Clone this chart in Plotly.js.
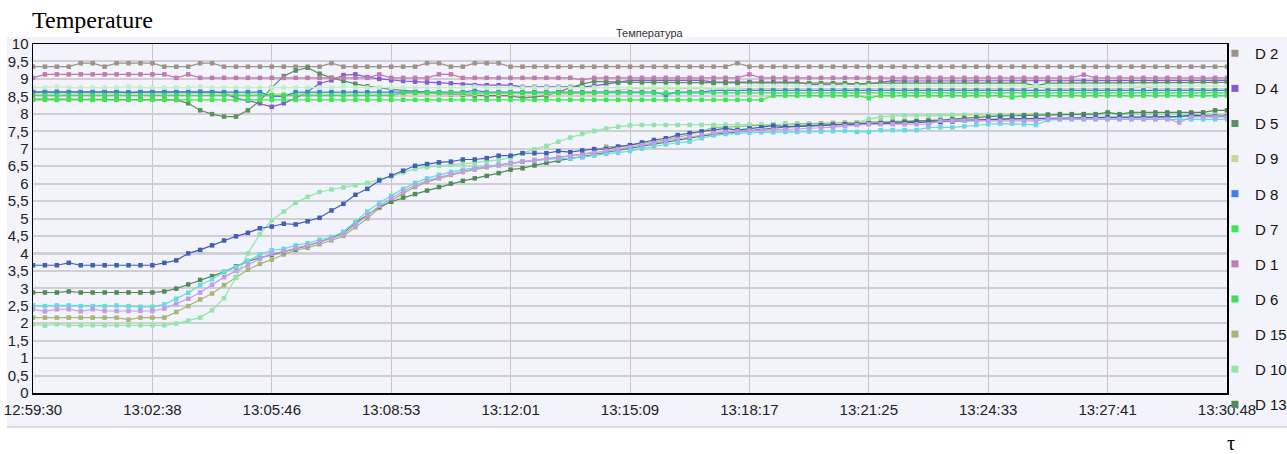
<!DOCTYPE html>
<html><head><meta charset="utf-8">
<script src="https://cdn.plot.ly/plotly-3.0.1.min.js"></script>
<style>html,body{margin:0;padding:0;background:#fff;}#chart{width:1287px;height:454px;}</style>
</head><body><div id="chart"></div>
<script>
// ---- tick labels ----
const xTickLabels = ['12:59:30','13:02:38','13:05:46','13:08:53','13:12:01','13:15:09','13:18:17','13:21:25','13:24:33','13:27:41','13:30:48'];
const yTickValues = [0,0.5,1,1.5,2,2.5,3,3.5,4,4.5,5,5.5,6,6.5,7,7.5,8,8.5,9,9.5,10];
const yTickLabels = ['0','0,5','1','1,5','2','2,5','3','3,5','4','4,5','5','5,5','6','6,5','7','7,5','8','8,5','9','9,5','10'];
const sampleStepSeconds = 18.78;   // one reading every ~18.8 s, 101 readings
const totalSeconds = 1878;

// ---- series values ----
const D2 = [9.35,9.35,9.35,9.35,9.45,9.45,9.35,9.45,9.45,9.45,
 9.45,9.35,9.35,9.35,9.45,9.45,9.35,9.35,9.35,9.35,
 9.35,9.35,9.35,9.35,9.35,9.45,9.35,9.35,9.35,9.35,
 9.35,9.35,9.35,9.45,9.45,9.35,9.35,9.45,9.45,9.45,
 9.35,9.35,9.35,9.35,9.35,9.35,9.35,9.35,9.35,9.35,
 9.35,9.35,9.35,9.35,9.35,9.35,9.35,9.35,9.35,9.45,
 9.35,9.35,9.35,9.35,9.35,9.35,9.35,9.35,9.35,9.35,
 9.35,9.35,9.35,9.35,9.35,9.35,9.35,9.35,9.35,9.35,
 9.35,9.35,9.35,9.35,9.35,9.35,9.35,9.35,9.35,9.35,
 9.35,9.35,9.35,9.35,9.35,9.35,9.35,9.35,9.35,9.35,
 9.35];
const D4 = [8.63,8.63,8.63,8.63,8.63,8.63,8.63,8.63,8.6,8.63,
 8.63,8.63,8.63,8.63,8.63,8.63,8.6,8.45,8.38,8.3,
 8.2,8.3,8.45,8.64,8.87,8.96,9.11,9.13,9.05,9.0,
 8.96,8.94,8.92,8.9,8.88,8.87,8.84,8.82,8.82,8.82,
 8.82,8.77,8.77,8.77,8.77,8.77,8.77,8.8,8.85,8.9,
 8.96,8.96,8.96,8.96,8.96,8.96,8.96,8.91,8.91,8.91,
 8.91,8.91,8.91,8.91,8.91,8.84,8.84,8.84,8.84,8.84,
 8.86,8.9,8.95,8.94,8.94,8.94,8.94,8.94,8.94,8.94,
 8.94,8.94,8.94,8.94,8.94,8.94,8.94,8.94,8.94,8.94,
 8.94,8.94,8.94,8.94,8.94,8.94,8.94,8.94,8.96,8.96,
 8.96];
const D5 = [8.42,8.42,8.4,8.42,8.42,8.4,8.42,8.42,8.42,8.42,
 8.42,8.42,8.4,8.3,8.1,7.99,7.92,7.92,8.1,8.37,
 8.75,9.08,9.24,9.32,9.15,9.03,8.94,8.86,8.79,8.74,
 8.7,8.67,8.65,8.62,8.58,8.56,8.54,8.52,8.52,8.52,
 8.52,8.45,8.48,8.52,8.62,8.75,8.85,8.93,8.92,8.9,
 8.9,8.9,8.9,8.9,8.9,8.9,8.9,8.88,8.88,8.88,
 8.88,8.88,8.88,8.88,8.88,8.88,8.88,8.88,8.88,8.85,
 8.88,8.88,8.88,8.88,8.88,8.88,8.88,8.88,8.88,8.88,
 8.88,8.88,8.88,8.88,8.8,8.88,8.88,8.88,8.88,8.88,
 8.88,8.88,8.88,8.88,8.88,8.88,8.88,8.88,8.9,8.9,
 8.9];
const D9 = [8.57,8.57,8.57,8.57,8.57,8.57,8.57,8.57,8.57,8.57,
 8.57,8.57,8.57,8.57,8.6,8.57,8.57,8.57,8.57,8.57,
 8.57,8.57,8.57,8.57,8.57,8.57,8.57,8.57,8.57,8.57,
 8.57,8.57,8.57,8.57,8.57,8.57,8.57,8.57,8.57,8.57,
 8.57,8.57,8.57,8.57,8.57,8.57,8.57,8.57,8.62,8.68,
 8.72,8.72,8.72,8.72,8.72,8.72,8.72,8.72,8.72,8.72,
 8.72,8.72,8.72,8.72,8.72,8.72,8.72,8.72,8.72,8.72,
 8.72,8.72,8.72,8.72,8.72,8.72,8.72,8.72,8.72,8.72,
 8.72,8.72,8.72,8.72,8.78,8.72,8.72,8.72,8.72,8.72,
 8.72,8.72,8.72,8.78,8.72,8.72,8.72,8.72,8.72,8.72,
 8.72];
const D8 = [8.62,8.62,8.62,8.62,8.62,8.62,8.62,8.62,8.62,8.62,
 8.62,8.62,8.62,8.62,8.62,8.62,8.62,8.62,8.62,8.62,
 8.5,8.5,8.62,8.62,8.62,8.62,8.62,8.62,8.62,8.62,
 8.62,8.62,8.62,8.62,8.62,8.62,8.62,8.67,8.62,8.62,
 8.62,8.62,8.62,8.62,8.62,8.62,8.62,8.62,8.62,8.62,
 8.62,8.62,8.62,8.54,8.62,8.62,8.62,8.67,8.67,8.67,
 8.67,8.67,8.67,8.67,8.67,8.67,8.67,8.67,8.67,8.67,
 8.67,8.67,8.67,8.67,8.67,8.67,8.67,8.67,8.67,8.67,
 8.67,8.67,8.67,8.67,8.67,8.67,8.67,8.67,8.67,8.67,
 8.67,8.67,8.67,8.67,8.67,8.67,8.67,8.67,8.67,8.67,
 8.67];
const D7 = [8.4,8.4,8.4,8.4,8.4,8.4,8.4,8.4,8.4,8.4,
 8.4,8.4,8.4,8.4,8.4,8.4,8.4,8.4,8.4,8.4,
 8.4,8.4,8.4,8.4,8.4,8.4,8.4,8.4,8.4,8.4,
 8.4,8.4,8.4,8.4,8.4,8.4,8.4,8.4,8.4,8.4,
 8.4,8.4,8.4,8.4,8.4,8.4,8.4,8.4,8.4,8.4,
 8.4,8.4,8.4,8.4,8.4,8.4,8.4,8.4,8.4,8.4,
 8.4,8.4,8.52,8.52,8.52,8.52,8.52,8.52,8.52,8.52,
 8.45,8.52,8.52,8.52,8.52,8.52,8.52,8.52,8.52,8.52,
 8.52,8.52,8.47,8.52,8.52,8.52,8.52,8.52,8.52,8.52,
 8.52,8.52,8.52,8.52,8.52,8.52,8.52,8.52,8.52,8.52,
 8.52];
const D1 = [9.03,9.13,9.13,9.13,9.13,9.13,9.13,9.13,9.13,9.13,
 9.13,9.13,9.03,9.13,9.03,9.03,9.03,9.03,9.03,9.03,
 9.03,9.03,9.03,9.03,9.03,9.03,9.03,9.03,9.03,9.13,
 9.03,9.03,9.03,9.03,9.13,9.13,9.03,9.03,9.03,9.03,
 9.03,9.03,9.03,9.03,9.03,9.03,8.97,9.03,9.03,9.03,
 9.03,9.03,9.03,9.03,9.03,9.03,9.03,9.03,9.03,9.03,
 9.13,9.03,9.03,9.03,9.03,9.03,9.03,9.03,9.03,9.03,
 9.03,9.03,9.03,9.03,9.03,9.03,9.03,9.03,9.03,9.03,
 9.03,9.03,9.03,9.03,9.03,9.03,9.03,9.03,9.12,9.03,
 9.03,9.03,9.03,9.03,9.03,9.03,9.03,9.03,9.03,9.03,
 9.03];
const D6 = [8.53,8.53,8.53,8.53,8.53,8.53,8.53,8.53,8.53,8.53,
 8.53,8.53,8.53,8.53,8.53,8.53,8.53,8.53,8.53,8.53,
 8.53,8.53,8.53,8.53,8.53,8.53,8.53,8.53,8.53,8.53,
 8.53,8.6,8.6,8.6,8.6,8.6,8.6,8.6,8.6,8.6,
 8.6,8.6,8.6,8.6,8.6,8.6,8.6,8.6,8.6,8.6,
 8.6,8.6,8.6,8.6,8.6,8.6,8.6,8.6,8.6,8.6,
 8.6,8.6,8.6,8.6,8.6,8.6,8.6,8.6,8.6,8.6,
 8.6,8.6,8.6,8.6,8.6,8.6,8.6,8.6,8.6,8.6,
 8.6,8.6,8.6,8.6,8.6,8.6,8.6,8.6,8.6,8.6,
 8.6,8.6,8.6,8.6,8.6,8.6,8.6,8.6,8.6,8.6,
 8.6];
const D15 = [2.16,2.16,2.16,2.16,2.16,2.16,2.16,2.16,2.1,2.16,
 2.16,2.16,2.32,2.49,2.68,2.85,3.09,3.32,3.53,3.7,
 3.82,3.97,4.09,4.16,4.26,4.37,4.5,4.75,5.0,5.3,
 5.52,5.72,5.9,6.05,6.15,6.25,6.33,6.4,6.47,6.52,
 6.58,6.63,6.68,6.72,6.76,6.8,6.84,6.92,7.06,7.06,
 7.1,7.15,7.2,7.26,7.32,7.4,7.5,7.61,7.62,7.64,
 7.65,7.68,7.7,7.72,7.72,7.72,7.73,7.74,7.75,7.76,
 7.78,7.78,7.8,7.8,7.8,7.82,7.82,7.82,7.84,7.84,
 7.84,7.84,7.86,7.86,7.86,7.86,7.86,7.88,7.88,7.88,
 7.88,7.9,7.9,7.9,7.9,7.9,7.92,7.92,7.94,7.94,
 7.95];
const D10 = [1.97,1.93,1.97,1.94,1.94,1.94,1.94,1.94,1.94,1.94,
 1.94,1.94,1.99,2.07,2.16,2.37,2.72,3.3,4.0,4.55,
 4.95,5.2,5.45,5.62,5.76,5.83,5.89,5.95,6.02,6.12,
 6.2,6.32,6.42,6.47,6.51,6.54,6.57,6.6,6.63,6.68,
 6.75,6.88,6.98,7.08,7.2,7.32,7.42,7.51,7.58,7.63,
 7.67,7.68,7.68,7.68,7.68,7.68,7.68,7.68,7.69,7.69,
 7.69,7.69,7.7,7.7,7.7,7.7,7.7,7.7,7.71,7.75,
 7.85,7.91,7.94,7.95,7.95,7.95,7.95,7.97,7.97,7.97,
 7.97,7.97,7.97,7.97,7.97,7.97,7.97,7.97,7.97,7.98,
 7.98,7.98,7.98,7.98,7.98,7.98,7.98,7.98,7.98,7.98,
 7.98];
const D13 = [2.88,2.88,2.88,2.91,2.88,2.88,2.88,2.88,2.88,2.88,
 2.88,2.91,2.99,3.11,3.24,3.35,3.47,3.63,3.78,3.87,
 3.96,4.04,4.12,4.22,4.33,4.44,4.6,4.88,5.1,5.33,
 5.48,5.6,5.7,5.8,5.9,6.0,6.08,6.15,6.22,6.3,
 6.4,6.44,6.52,6.6,6.66,6.72,6.78,6.84,6.9,6.96,
 7.02,7.08,7.14,7.2,7.26,7.31,7.36,7.41,7.45,7.49,
 7.53,7.56,7.59,7.62,7.64,7.66,7.68,7.69,7.7,7.71,
 7.72,7.73,7.75,7.77,7.79,7.8,7.82,7.85,7.88,7.9,
 7.92,7.94,7.95,7.96,7.97,7.98,7.99,7.99,7.99,7.99,
 8.04,7.99,8.04,8.04,8.04,8.04,8.04,8.04,8.04,8.1,
 8.1];
const D11 = [3.66,3.66,3.66,3.73,3.66,3.66,3.66,3.66,3.66,3.66,
 3.66,3.73,3.8,4.0,4.1,4.23,4.37,4.49,4.59,4.72,
 4.77,4.85,4.83,4.92,5.02,5.23,5.42,5.68,5.85,6.09,
 6.23,6.37,6.51,6.56,6.61,6.63,6.69,6.69,6.73,6.8,
 6.8,6.87,6.87,6.87,6.93,6.9,6.95,6.99,6.99,7.06,
 7.1,7.18,7.25,7.3,7.39,7.45,7.49,7.53,7.58,7.53,
 7.58,7.61,7.66,7.63,7.65,7.66,7.67,7.68,7.7,7.7,
 7.72,7.72,7.73,7.74,7.75,7.75,7.76,7.78,7.8,7.82,
 7.84,7.86,7.86,7.86,7.86,7.87,7.88,7.88,7.89,7.89,
 7.9,7.9,7.9,7.91,7.91,7.92,7.92,7.96,7.94,7.93,
 7.93];
const D12 = [2.51,2.49,2.51,2.51,2.49,2.49,2.49,2.51,2.49,2.47,
 2.47,2.54,2.7,2.87,3.09,3.26,3.47,3.61,3.78,3.97,
 4.09,4.13,4.23,4.29,4.39,4.47,4.62,4.9,5.2,5.45,
 5.65,5.85,6.02,6.15,6.25,6.33,6.4,6.45,6.5,6.55,
 6.6,6.63,6.66,6.69,6.72,6.72,6.75,6.8,6.85,6.88,
 6.93,7.0,7.07,7.12,7.17,7.2,7.3,7.38,7.42,7.45,
 7.46,7.47,7.47,7.48,7.48,7.49,7.49,7.5,7.51,7.48,
 7.48,7.53,7.53,7.53,7.53,7.61,7.61,7.61,7.64,7.68,
 7.7,7.72,7.72,7.7,7.68,7.82,7.84,7.84,7.84,7.84,
 7.84,7.84,7.84,7.84,7.84,7.84,7.84,7.84,7.84,7.84,
 7.84];
const D14 = [2.4,2.34,2.4,2.4,2.34,2.4,2.35,2.35,2.35,2.35,
 2.35,2.42,2.56,2.7,2.88,3.1,3.32,3.5,3.66,3.85,
 3.99,4.06,4.15,4.23,4.32,4.42,4.55,4.82,5.1,5.36,
 5.58,5.78,5.95,6.08,6.18,6.27,6.35,6.42,6.48,6.53,
 6.58,6.62,6.66,6.7,6.74,6.78,6.82,6.88,6.94,6.99,
 7.04,7.1,7.16,7.22,7.28,7.34,7.4,7.45,7.48,7.5,
 7.52,7.53,7.54,7.55,7.56,7.58,7.6,7.62,7.65,7.68,
 7.7,7.7,7.7,7.7,7.7,7.7,7.8,7.8,7.8,7.8,
 7.8,7.8,7.8,7.8,7.8,7.85,7.85,7.85,7.85,7.85,
 7.85,7.85,7.85,7.85,7.85,7.85,7.75,7.91,7.91,7.91,
 7.91];
const D3 = [8.75,8.75,8.78,8.75,8.75,8.75,8.75,8.75,8.78,8.75,
 8.75,8.75,8.75,8.75,8.78,8.75,8.75,8.75,8.75,8.75,
 8.75,8.75,8.75,8.75,8.75,8.75,8.78,8.75,8.75,8.75,
 8.75,8.75,8.75,8.75,8.75,8.75,8.75,8.78,8.75,8.75,
 8.75,8.75,8.75,8.75,8.75,8.75,8.75,8.75,8.75,8.75,
 8.75,8.75,8.75,8.75,8.75,8.75,8.75,8.75,8.75,8.75,
 8.8,8.8,8.8,8.8,8.8,8.8,8.8,8.8,8.8,8.8,
 8.8,8.8,8.8,8.8,8.8,8.8,8.8,8.8,8.8,8.8,
 8.8,8.8,8.8,8.8,8.8,8.8,8.8,8.8,8.8,8.8,
 8.8,8.8,8.8,8.8,8.8,8.8,8.8,8.8,8.8,8.8,
 8.8];

const seriesNames = ['D 2','D 4','D 5','D 9','D 8','D 7','D 1','D 6','D 15','D 10','D 13','D 11','D 12','D 14','D 3'];
const seriesValues = [D2,D4,D5,D9,D8,D7,D1,D6,D15,D10,D13,D11,D12,D14,D3];
const seriesColors = ['#9c9286','#8659d4','#5b8f5f','#c9d78f','#3d7fe8','#3fe653','#be7bb0','#3ddc62','#a6b673','#8fe6a8','#4f8a57','#3f60b5','#62dcdc','#c29ceb','#bff0c6'];
const legendVisibleCount = 12;   // the legend in the picture is cut off after "D 11"

const SANS = '"Liberation Sans",Arial,sans-serif';
const times = D2.map((_, i) => i * sampleStepSeconds);
const xTickVals = xTickLabels.map((_, k) => k * totalSeconds / (xTickLabels.length - 1));

const lineTraces = seriesValues.map((vals, k) => ({
  type: 'scatter', mode: 'lines+markers', x: times, y: vals,
  line: {color: seriesColors[k], width: 1.2},
  marker: {symbol: 'square', size: 4.5, color: seriesColors[k]},
  showlegend: false, hoverinfo: 'skip', cliponaxis: true
}));
const legendTraces = seriesNames.slice(0, legendVisibleCount).map((n, k) => ({
  type: 'scatter', mode: 'markers', x: [null], y: [null], name: n, legendgroup: n,
  marker: {symbol: 'square', size: 7, color: seriesColors[k]}, showlegend: true
}));

const layout = {
  width: 1287, height: 454,
  margin: {l: 33, r: 60, t: 44, b: 61, pad: 0, autoexpand: false},
  paper_bgcolor: '#ffffff', plot_bgcolor: '#f3f3fb',
  showlegend: true,
  legend: {x: 0.9899, xanchor: 'left', y: 1.02, yanchor: 'top', xref: 'paper', yref: 'paper',
    font: {family: SANS, size: 15, color: '#111'}, bgcolor: 'rgba(0,0,0,0)',
    tracegroupgap: 12.6, itemwidth: 30, maxheight: 391, traceorder: 'grouped'},
  xaxis: {range: [0, totalSeconds], tickvals: xTickVals, ticktext: xTickLabels,
    showgrid: true, gridcolor: '#c6c6c6', gridwidth: 1, zeroline: false,
    showline: true, linecolor: '#000', linewidth: 1.5, mirror: true, ticks: '',
    ticklabeloverflow: 'allow', ticklabelstandoff: 2,
    tickfont: {family: SANS, size: 15, color: '#222'}, fixedrange: true},
  yaxis: {range: [0, 10], tickvals: yTickValues, ticktext: yTickLabels,
    showgrid: true, gridcolor: '#d0d0d4', gridwidth: 2, zeroline: false,
    showline: true, linecolor: '#000', linewidth: 1.5, mirror: true, ticks: '',
    ticklabeloverflow: 'allow',
    tickfont: {family: SANS, size: 15, color: '#222'}, fixedrange: true},
  shapes: [
    {type: 'rect', xref: 'paper', yref: 'paper', x0: -0.0218, x1: 1.06, y0: -0.0974, y1: 1.0201,
     fillcolor: '#f3f3fb', line: {width: 0}, layer: 'below'},
    {type: 'line', xref: 'paper', yref: 'paper', x0: -0.0218, x1: 1.06, y0: -0.0974, y1: -0.0974,
     line: {color: '#dadada', width: 2}, layer: 'below'},
    {type: 'line', xref: 'paper', yref: 'y', x0: 0, x1: 1, y0: 4, y1: 4,
     line: {color: '#b2b2b6', width: 2}, layer: 'between'}
  ],
  annotations: [
    {text: 'Temperature', xref: 'paper', yref: 'paper', x: -0.0025, y: 1.069, xanchor: 'left', yanchor: 'middle',
     showarrow: false, font: {family: '"Liberation Serif","Times New Roman",serif', size: 24, color: '#000'}},
    {text: 'Температура', xref: 'paper', yref: 'paper', x: 0.517, y: 1.0086, xanchor: 'center', yanchor: 'bottom',
     showarrow: false, font: {family: SANS, size: 11, color: '#333'}},
    {text: 'τ', xref: 'paper', yref: 'paper', x: 1.0034, y: -0.143, xanchor: 'center', yanchor: 'middle',
     showarrow: false, font: {family: '"Liberation Serif","Times New Roman",serif', size: 20, color: '#000'}}
  ]
};

Plotly.newPlot('chart', lineTraces.concat(legendTraces), layout, {displayModeBar: false, staticPlot: true});
</script>
</body></html>
